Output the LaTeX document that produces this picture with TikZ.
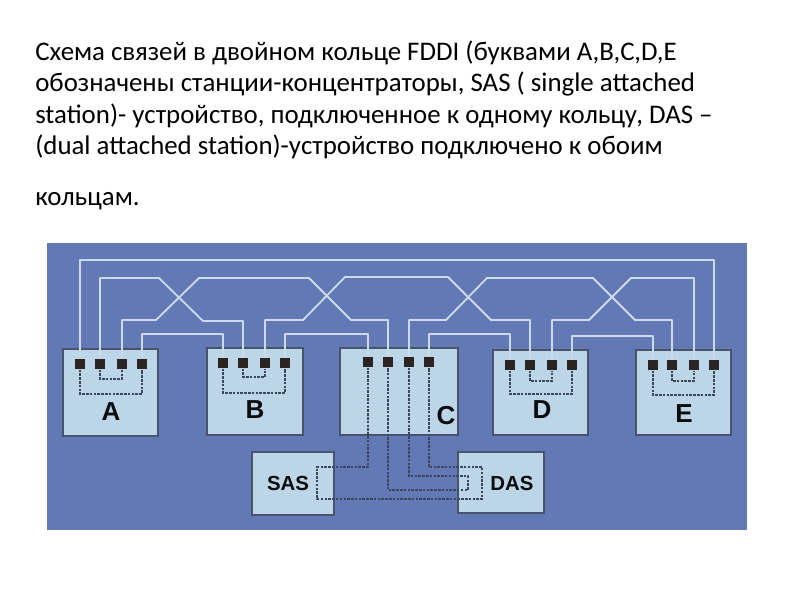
\documentclass[tikz,border=0pt]{standalone}
\usepackage{fontspec}
\setmainfont{Carlito}
\newfontfamily\labelfont{Liberation Sans}
\usetikzlibrary{calc, positioning}
\definecolor{panelblue}{HTML}{6379B5}
\definecolor{boxblue}{HTML}{BDD6E7}
\definecolor{boxedge}{HTML}{48546B}
\definecolor{portdark}{HTML}{2A2422}
\definecolor{wirelight}{HTML}{CBDBEC}
\definecolor{dashdark}{HTML}{3B4660}
\tikzset{
  unit/.style={draw=boxedge,fill=boxblue,line width=1.1pt,inner sep=0pt},
  port/.style={fill=portdark,inner sep=0pt,minimum size=0.27cm},
  ring/.style={draw=wirelight,line width=1.3pt,line join=round},
  inner/.style={draw=dashdark,line width=1.1pt,dash pattern=on 1.8pt off 0.9pt},
  unitlabel/.style={font=\labelfont\bfseries\fontsize{18.5}{20}\selectfont,text=black!85!boxedge},
  caption/.style={anchor=base west,inner sep=0pt,font=\fontsize{19.1}{22}\selectfont,text=black}
}
\begin{document}
\begin{tikzpicture}[x=0.025cm,y=-0.025cm]
  \useasboundingbox (0,0) rectangle (800,600);
  % caption lines
  \node[caption] (line1) at (35,60) {Схема связей в двойном кольце FDDI (буквами A,B,C,D,E};
  \node[caption] (line2) at (35,91) {обозначены станции-концентраторы, SAS ( single attached};
  \node[caption] (line3) at (35,123) {station)- устройство, подключенное к одному кольцу, DAS –};
  \node[caption] (line4) at (35,154) {(dual attached station)-устройство подключено к обоим};
  \node[caption] (line5) at (35,205) {кольцам.};
  % panel
  \fill[panelblue] (47,243) rectangle (747,530);
  % stations
  \foreach \name/\cx/\cy/\w/\h in {A/110.5/392.5/95/87, B/255/391.5/96/87, C/399/391.5/118/87,
      D/540.5/392.5/95/85, E/683.5/392.5/95/85, SAS/293/483.5/82/63, DAS/501/482.5/86/61}
    \node[unit,minimum width=\w*0.025cm,minimum height=\h*0.025cm] (\name) at (\cx,\cy) {};
  % station letters
  \node[unitlabel] (Atext) at (111,412) {A};
  \node[unitlabel] (Btext) at (255,410) {B};
  \node[unitlabel] (Ctext) at (446,416) {C};
  \node[unitlabel] (Dtext) at (542,410) {D};
  \node[unitlabel] (Etext) at (684,414) {E};
  \node[unitlabel,font=\labelfont\bfseries\fontsize{14.5}{18}\selectfont] (SAStext) at (288,483) {SAS};
  \node[unitlabel,font=\labelfont\bfseries\fontsize{14.5}{18}\selectfont] (DAStext) at (512,483) {DAS};
  % ports
  \foreach \x [count=\i] in {80,100,122,142} \node[port] (A\i) at (\x,364) {};
  \foreach \x [count=\i] in {223,243,265,285} \node[port] (B\i) at (\x,363) {};
  \foreach \x [count=\i] in {368,388,409,429} \node[port] (C\i) at (\x,362) {};
  \foreach \x [count=\i] in {510,530,552,572} \node[port] (D\i) at (\x,365) {};
  \foreach \x [count=\i] in {653,672,694,714} \node[port] (E\i) at (\x,365) {};
  % rings
  \draw[ring] (A1.north) -- (80,260) -- (714,260) -- (E4.north);
  \draw[ring] (A2.north) -- (100,278) -- (159,278) -- (203,321) -- (243,321) -- (B2.north);
  \draw[ring] (A3.north) -- (122,320) -- (156,320) -- (199,278) -- (309,278) -- (351,320) -- (388,320) -- (C2.north);
  \draw[ring] (B3.north) -- (265,320) -- (303,320) -- (345,277) -- (448,277) -- (491,320) -- (530,320) -- (D2.north);
  \draw[ring] (C3.north) -- (409,320) -- (446,320) -- (487,278) -- (593,278) -- (635,320) -- (672,320) -- (E2.north);
  \draw[ring] (D3.north) -- (552,320) -- (589,320) -- (631,278) -- (694,278) -- (E3.north);
  \draw[ring] (A4.north) -- (142,334) -- (223,334) -- (B1.north);
  \draw[ring] (B4.north) -- (285,334) -- (368,334) -- (C1.north);
  \draw[ring] (C4.north) -- (429,334) -- (510,334) -- (D1.north);
  \draw[ring] (D4.north) -- (572,336) -- (653,336) -- (E1.north);
  % loops inside the stations
  \draw[inner] (A2.south) -- (100,379) -- (122,379) -- (A3.south);
  \draw[inner] (A1.south) -- (80,394) -- (142,394) -- (A4.south);
  \draw[inner] (B2.south) -- (243,377) -- (265,377) -- (B3.south);
  \draw[inner] (B1.south) -- (223,393) -- (285,393) -- (B4.south);
  \draw[inner] (D2.south) -- (530,381) -- (552,381) -- (D3.south);
  \draw[inner] (D1.south) -- (510,394) -- (572,394) -- (D4.south);
  \draw[inner] (E2.south) -- (672,381) -- (694,381) -- (E3.south);
  \draw[inner] (E1.south) -- (653,395) -- (714,395) -- (E4.south);
  % links from C to SAS and DAS
  \draw[inner] (C1.south) -- (368,467) -- (317,467) -- (317,499) -- (482,499) -- (482,467) -- (429,467) -- (C4.south);
  \draw[inner] (C3.south) -- (409,476) -- (468,476) -- (468,490) -- (388,490) -- (C2.south);
\end{tikzpicture}
\end{document}
